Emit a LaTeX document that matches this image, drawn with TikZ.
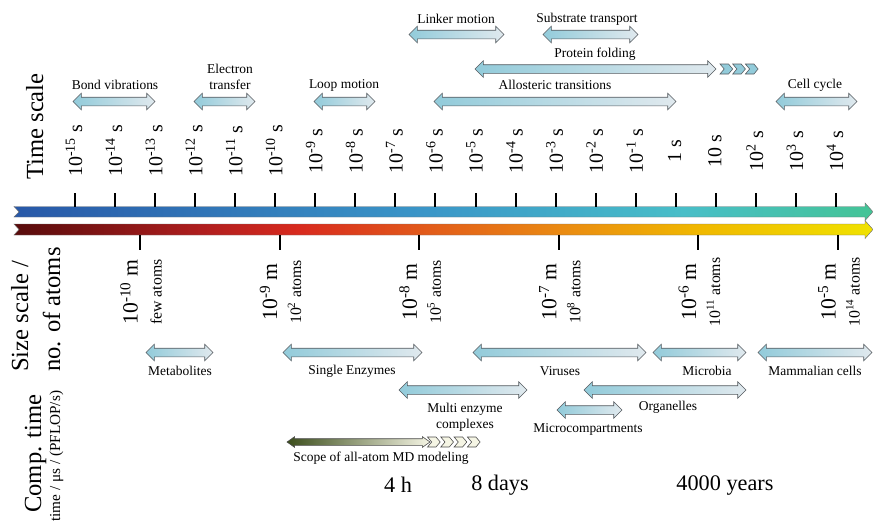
\documentclass[tikz,border=0pt]{standalone}
\usepackage{fontspec}
\setmainfont{Liberation Serif}
\usetikzlibrary{shapes.arrows}

\definecolor{evtleft}{RGB}{146,203,218}
\definecolor{evtright}{RGB}{224,233,238}
\definecolor{evtline}{RGB}{85,90,95}
\definecolor{mdleft}{RGB}{60,78,28}
\definecolor{mdright}{RGB}{245,245,228}
\definecolor{tb1}{RGB}{40,88,168}
\definecolor{tb2}{RGB}{58,150,200}
\definecolor{tb3}{RGB}{72,190,200}
\definecolor{tb4}{RGB}{68,196,150}
\definecolor{sb1}{RGB}{88,12,12}
\definecolor{sb2}{RGB}{176,30,30}
\definecolor{sb3}{RGB}{216,42,30}
\definecolor{sb4}{RGB}{226,92,26}
\definecolor{sb5}{RGB}{234,138,18}
\definecolor{sb6}{RGB}{240,184,0}
\definecolor{sb7}{RGB}{240,226,0}

\pgfdeclarehorizontalshading{timebar}{100bp}{color(0bp)=(tb1); color(25bp)=(tb1);
  color(49bp)=(tb2); color(64bp)=(tb3); color(75bp)=(tb4); color(100bp)=(tb4)}
\pgfdeclarehorizontalshading{sizebar}{100bp}{color(0bp)=(sb1); color(25bp)=(sb1);
  color(36bp)=(sb2); color(41.6bp)=(sb3); color(49.2bp)=(sb4); color(56.8bp)=(sb5);
  color(64.9bp)=(sb6); color(75bp)=(sb7); color(100bp)=(sb7)}

\begin{document}
\begin{tikzpicture}[
        x=0.03cm, y=-0.03cm,
        every node/.style={inner sep=0pt},
        evt/.style={
            double arrow, draw=evtline, line width=0.5pt,
            left color=evtleft, right color=evtright,
            inner xsep=0pt, inner ysep=4*0.03cm,
            double arrow head extend=4*0.03cm
        },
        mdbar/.style={
            double arrow, draw=black!70, line width=0.5pt,
            left color=mdleft, right color=mdright,
            inner xsep=0pt, inner ysep=3*0.03cm,
            double arrow head extend=2*0.03cm,
            double arrow tip angle=70
        },
        chev/.style={draw=evtline, line width=0.5pt, fill=evtleft},
        mdchev/.style={draw=black!70, line width=0.5pt, fill=mdright},
        tick/.style={line width=1.7pt},
        lab/.style={font=\fontsize{11.5}{14}\selectfont, align=center},
        tlab/.style={font=\fontsize{17}{20}\selectfont, rotate=90},
        slab/.style={font=\fontsize{13.5}{20.5}\selectfont, rotate=90, align=center},
        head/.style={font=\fontsize{21}{25}\selectfont, rotate=90, anchor=base west},
        big/.style={font=\fontsize{19}{22}\selectfont}
    ]
    \useasboundingbox (0,0) rectangle (873,524);

    % Row titles
    \node[head] (timetitle) at (43,180) {Time scale};
    \node[head] (sizetitle) at (28,372) {Size scale /};
    \node[head] (atomtitle) at (60,372) {no. of atoms};
    \node[head] (comptitle) at (41,513) {Comp. time};
    \node[head, font=\fontsize{13}{15}\selectfont] (compunit) at (60,522)
        {time / μs / (PFLOP/s)};

    % Time axis
    \shade[shading=timebar, draw=black!55, line width=0.4pt]
        (14,206.5) -- (865,206.5) -- (865,203) -- (873,211.8) -- (865,220.5)
        -- (865,217) -- (14,217) -- (19,211.8) -- cycle;
    \foreach \lab [count=\i from 0] in {
        {10\textsuperscript{-15} s},{10\textsuperscript{-14} s},{10\textsuperscript{-13} s},
        {10\textsuperscript{-12} s},{10\textsuperscript{-11} s},{10\textsuperscript{-10} s},
        {10\textsuperscript{-9} s},{10\textsuperscript{-8} s},{10\textsuperscript{-7} s},
        {10\textsuperscript{-6} s},{10\textsuperscript{-5} s},{10\textsuperscript{-4} s},
        {10\textsuperscript{-3} s},{10\textsuperscript{-2} s},{10\textsuperscript{-1} s},
        {1 s},{10 s},{10\textsuperscript{2} s},{10\textsuperscript{3} s},{10\textsuperscript{4} s}} {
        \draw[tick] ({75+40.05*\i},193) -- ++(0,14);
        \node[tlab] (t\i) at ({74+40.05*\i},151) {\lab};
    }

    % Size axis
    \shade[shading=sizebar, draw=black!55, line width=0.4pt]
        (14,224) -- (865,224) -- (865,220.5) -- (873,229.5) -- (865,238.5)
        -- (865,235) -- (14,235) -- (19,229.5) -- cycle;
    \foreach \sz/\na [count=\i from 0] in {
        {10\textsuperscript{-10} m}/{few atoms},
        {10\textsuperscript{-9} m}/{10\textsuperscript{2} atoms},
        {10\textsuperscript{-8} m}/{10\textsuperscript{5} atoms},
        {10\textsuperscript{-7} m}/{10\textsuperscript{8} atoms},
        {10\textsuperscript{-6} m}/{10\textsuperscript{11} atoms},
        {10\textsuperscript{-5} m}/{10\textsuperscript{14} atoms}} {
        \draw[tick] ({140+139.6*\i},235) -- ++(0,15);
        \node[slab] (s\i) at ({141+139.6*\i},292)
            {{\fontsize{18.5}{20.5}\selectfont \sz}\\\na};
    }

    % Time scale processes
    \node[evt, minimum height=82*0.03cm] (bond) at (114,101.5) {};
    \node[lab] (bondlab) at (115,85) {Bond vibrations};
    \node[evt, minimum height=61*0.03cm] (etrans) at (224.5,101.5) {};
    \node[lab] (etranslab) at (230,77) {Electron\\transfer};
    \node[evt, minimum height=61*0.03cm] (loop) at (344.5,101.5) {};
    \node[lab] (looplab) at (344,85) {Loop motion};
    \node[evt, minimum height=95*0.03cm] (linker) at (456.5,34.5) {};
    \node[lab] (linkerlab) at (456,19) {Linker motion};
    \node[evt, minimum height=95*0.03cm] (substr) at (590.5,34.5) {};
    \node[lab] (substrlab) at (587,19) {Substrate transport};
    \node[evt, minimum height=241*0.03cm] (fold) at (595.5,69) {};
    \node[lab] (foldlab) at (595,54) {Protein folding};
    \foreach \cx in {720,732.7,745.4}
        \filldraw[chev] (\cx,64) -- ++(8.5,0) -- ++(4.2,5) -- ++(-4.2,5)
            -- ++(-8.5,0) -- ++(4.2,-5) -- cycle;
    \node[evt, minimum height=242*0.03cm] (allo) at (555,101.5) {};
    \node[lab] (allolab) at (555,85) {Allosteric transitions};
    \node[evt, minimum height=81*0.03cm] (cellcyc) at (816.5,101.5) {};
    \node[lab] (cellcyclab) at (815,85) {Cell cycle};

    % Size scale objects
    \node[evt, minimum height=67*0.03cm] (metab) at (179.5,352.5) {};
    \node[lab] (metablab) at (180,371) {Metabolites};
    \node[evt, minimum height=139*0.03cm] (enz) at (352.5,352.5) {};
    \node[lab] (enzlab) at (352,371) {Single Enzymes};
    \node[evt, minimum height=173*0.03cm] (virus) at (559.5,352.5) {};
    \node[lab] (viruslab) at (560,371) {Viruses};
    \node[evt, minimum height=93*0.03cm] (microb) at (699.5,352.5) {};
    \node[lab] (microblab) at (707,371) {Microbia};
    \node[evt, minimum height=114*0.03cm] (mammal) at (815,352.5) {};
    \node[lab] (mammallab) at (815,371) {Mammalian cells};
    \node[evt, minimum height=128*0.03cm] (multi) at (463,390) {};
    \node[lab] (multilab) at (465,417.5) {Multi enzyme\\complexes};
    \node[evt, minimum height=162*0.03cm] (organ) at (665,390) {};
    \node[lab] (organlab) at (668,407) {Organelles};
    \node[evt, minimum height=65*0.03cm] (mcomp) at (589.5,410) {};
    \node[lab] (mcomplab) at (588,429) {Microcompartments};

    % Computational reach
    \node[mdbar, minimum height=143*0.03cm] (md) at (358.5,442) {};
    \foreach \cx in {427.5,440.8,454.1,467.4}
        \filldraw[mdchev] (\cx,437) -- ++(8.5,0) -- ++(4.2,5) -- ++(-4.2,5)
            -- ++(-8.5,0) -- ++(4.2,-5) -- cycle;
    \node[lab] (mdlab) at (381,458) {Scope of all-atom MD modeling};
    \node[big] (fourh) at (398,485) {4 h};
    \node[big] (eightd) at (500,485) {8 days};
    \node[big] (years) at (725,485) {4000 years};

\end{tikzpicture}
\end{document}
